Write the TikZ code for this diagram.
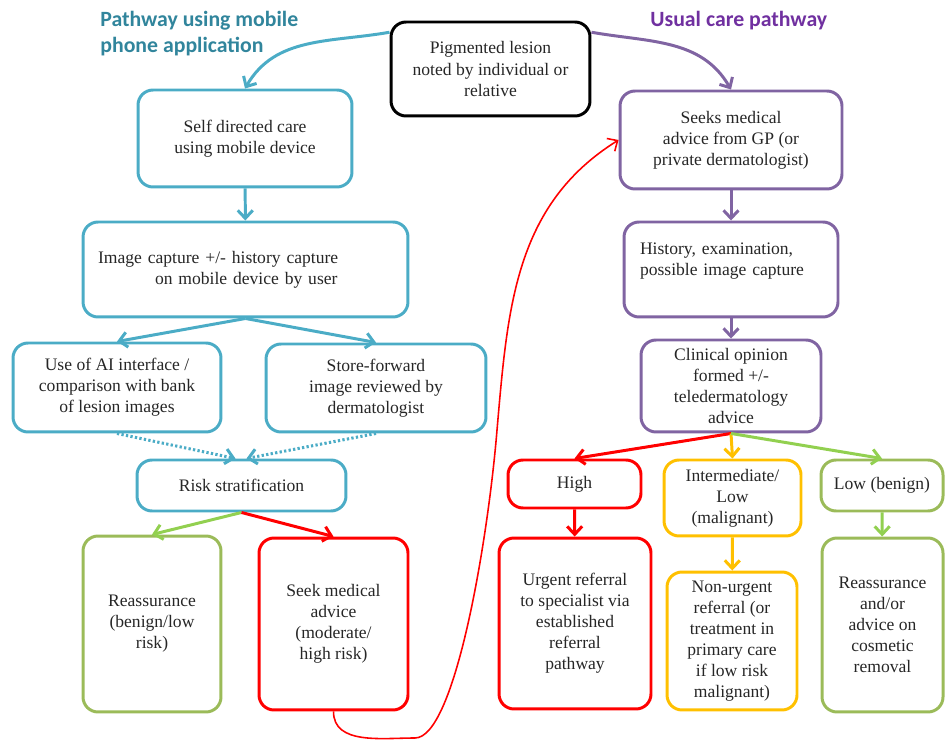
\documentclass[tikz,border=0pt]{standalone}
\usepackage{fontspec}
\setmainfont{Liberation Serif}
\newfontfamily\headfont{Carlito}
\usetikzlibrary{arrows.meta}

\definecolor{tealline}{HTML}{4BACC6}
\definecolor{tealhead}{HTML}{31859C}
\definecolor{purpleline}{HTML}{8064A2}
\definecolor{purplehead}{HTML}{7030A0}
\definecolor{redline}{HTML}{FF0000}
\definecolor{orangeline}{HTML}{FFC000}
\definecolor{greenline}{HTML}{9BBB59}
\definecolor{greenarrow}{HTML}{92D050}

\begin{document}
\begin{tikzpicture}
		[
		x=0.02cm, y=0.02cm, >={Straight Barb[length=1.6mm,width=3mm]},
		%Voreinstellung Kasten und Pfeile
		box/.style={draw, rounded corners=0.3cm, line width=1.7pt, align=center, inner sep=2pt, font=\fontsize{10}{12}\selectfont, text=black!85},
		arrow/.style={->, line width=1.7pt},
		title/.style={font=\headfont\bfseries\fontsize{12.4}{15}\selectfont, align=left, inner sep=0pt, anchor=north west}
		]
		
		\useasboundingbox (0,0) rectangle (945,740);
		
		%Ueberschriften
		\node[title, text=tealhead] (ttlapp) at (100,729) {Pathway using mobile\\phone application};
		\node[title, text=purplehead] (ttlusual) at (650,729) {Usual care pathway};
		
		%Start
		\node[box, draw=black, minimum width=3.98cm, minimum height=1.88cm] (pig) at (490.5,671) {Pigmented lesion\\noted by individual or\\relative};
		
		%Pfad mobile Anwendung
		\node[box, draw=tealline, minimum width=4.28cm, minimum height=1.94cm] (self) at (245,601.5) {Self directed care\\using mobile device};
		\node[box, draw=tealline, minimum width=6.5cm, minimum height=1.9cm, text width=5.9cm, inner xsep=0.3cm, align=left] (img) at (245.5,470.5) {Image capture +/- history capture\\\hspace*{1.14cm}on mobile device by user};
		\node[box, draw=tealline, minimum width=4.16cm, minimum height=1.78cm] (ai) at (117,352.5) {Use of AI interface /\\comparison with bank\\of lesion images};
		\node[box, draw=tealline, minimum width=4.4cm, minimum height=1.76cm] (store) at (376,352) {Store-forward\\image reviewed by\\dermatologist};
		\node[box, draw=tealline, minimum width=4.18cm, minimum height=1.02cm] (risk) at (241.5,254.5) {Risk stratification};
		\node[box, draw=greenline, minimum width=2.76cm, minimum height=3.52cm] (reasleft) at (152,116) {Reassurance\\(benign/low\\risk)};
		\node[box, draw=redline, minimum width=2.98cm, minimum height=3.44cm] (seek) at (333.5,116) {Seek medical\\advice\\(moderate/\\high risk)};
		
		%Pfad Hausarzt
		\node[box, draw=purpleline, minimum width=4.44cm, minimum height=1.96cm] (gp) at (731,600) {Seeks medical\\advice from GP (or\\private dermatologist)};
		\node[box, draw=purpleline, minimum width=4.28cm, minimum height=1.9cm, text width=3.64cm, inner xsep=0.32cm, align=left] (hist) at (731,470.5) {History, examination,\\possible image capture\\~};
		\node[box, draw=purpleline, minimum width=3.6cm, minimum height=1.84cm] (clin) at (731,354) {Clinical opinion\\formed +/-\\teledermatology\\advice};
		\node[box, draw=redline, minimum width=2.66cm, minimum height=0.96cm] (high) at (574.5,256) {High};
		\node[box, draw=orangeline, minimum width=2.74cm, minimum height=1.52cm] (inter) at (732.5,242) {Intermediate/\\Low\\(malignant)};
		\node[box, draw=greenline, minimum width=2.44cm, minimum height=1.02cm] (low) at (882,254.5) {Low (benign)};
		\node[box, draw=redline, minimum width=3.04cm, minimum height=3.42cm] (urgent) at (575,116.5) {Urgent referral\\to specialist via\\established\\referral\\pathway};
		\node[box, draw=orangeline, minimum width=2.6cm, minimum height=2.76cm] (nonurgent) at (732,99) {Non-urgent\\referral (or\\treatment in\\primary care\\if low risk\\malignant)};
		\node[box, draw=greenline, minimum width=2.42cm, minimum height=3.48cm] (reasright) at (882.5,115) {Reassurance\\and/or\\advice on\\cosmetic\\removal};
		
		%Pfeile links
		\draw[arrow, tealline] (pig.160) to[out=190, in=60] (self.north);
		\draw[arrow, tealline] (self) -- (img);
		\draw[arrow, tealline] (img.south) -- (ai.north);
		\draw[arrow, tealline] (img.south) -- (store.north);
		\draw[arrow, tealline, dash pattern=on 1.3pt off 1.3pt] (ai.south) -- ([xshift=-0.12cm]risk.north);
		\draw[arrow, tealline, dash pattern=on 1.3pt off 1.3pt] (store.south) -- ([xshift=0.1cm]risk.north);
		\draw[arrow, greenarrow] (risk.south) -- (reasleft.north);
		\draw[arrow, redline] (risk.south) -- (seek.north);
		
		%Verbindung zurueck zum Hausarzt
		\coordinate (loop) at (415,2);
		\coordinate (rise) at (497,310);
		\draw[->, redline, line width=0.9pt] (seek.south) to[out=-90, in=180] (loop) .. controls (455,2) and (488,200) .. (rise) to[out=85, in=212] (gp.west);
		
		%Pfeile rechts
		\draw[arrow, purpleline] (pig.20) to[out=-10, in=120] (gp.north);
		\draw[arrow, purpleline] (gp) -- (hist);
		\draw[arrow, purpleline] (hist) -- (clin);
		\draw[arrow, redline] (clin.south) -- (high.north);
		\draw[arrow, orangeline] (clin.south) -- (inter.north);
		\draw[arrow, greenarrow] (clin.south) -- (low.north);
		\draw[arrow, redline] (high) -- (urgent);
		\draw[arrow, orangeline] (inter) -- (nonurgent);
		\draw[arrow, greenarrow] (low) -- (reasright);
		
	\end{tikzpicture}
\end{document}
